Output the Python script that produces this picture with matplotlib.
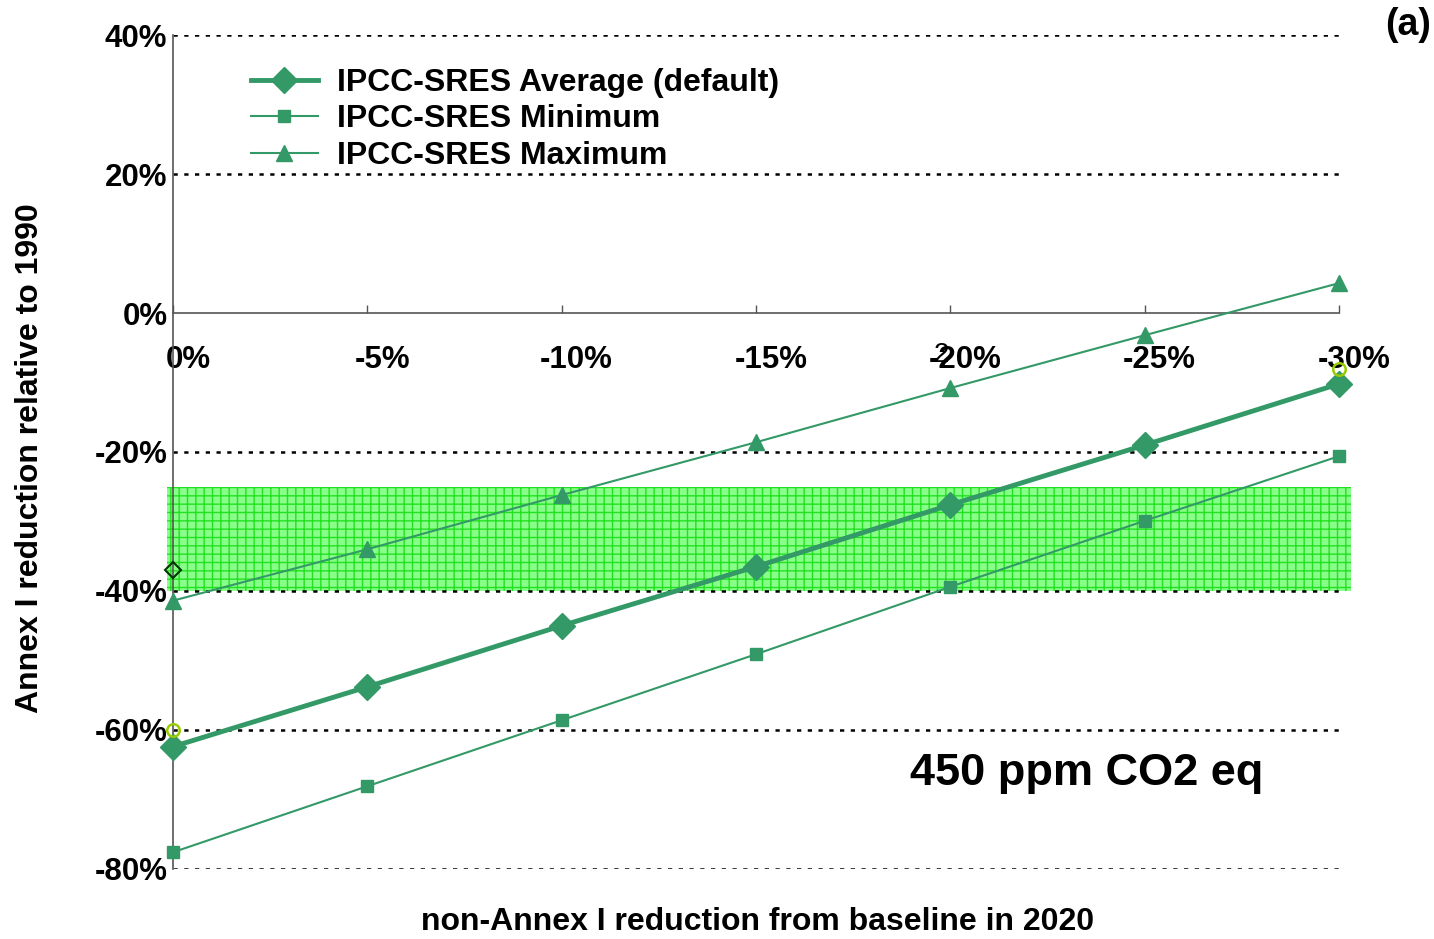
import numpy as np
import matplotlib
matplotlib.use("Agg")
import matplotlib.pyplot as plt
import matplotlib.transforms as mtransforms

# data (percent)
x_red = [0, -5, -10, -15, -20, -25, -30]
avg = [-62.4, -53.8, -45.0, -36.5, -27.6, -19.0, -10.2]
mn = [-77.6, -68.1, -58.6, -49.1, -39.4, -29.9, -20.6]
mx = [-41.4, -34.0, -26.2, -18.6, -10.8, -3.2, 4.3]
band = (-40, -25)
y_ticks = [40, 20, 0, -20, -40, -60, -80]
x_ticks = [0, -5, -10, -15, -20, -25, -30]

plt.rcParams["font.family"] = ["Liberation Sans", "DejaVu Sans"]
plt.rcParams["font.weight"] = "bold"

GREEN = "#339966"

fig = plt.figure(figsize=(14.34, 9.39), dpi=100)
ax = fig.add_axes([0.1206, 0.0746, 0.8132, 0.8881])
ax.set_xlim(0, -30)
ax.set_ylim(-80, 40)

# target band
plt.rcParams["hatch.linewidth"] = 1.0
ax.fill_between([0.15, -30.3], band[0], band[1], facecolor="#88ff88",
                edgecolor="#22e022", hatch="++", lw=0, zorder=1, clip_on=False)

# dotted grid
for yv in y_ticks:
    if yv == 0:
        continue
    ax.axhline(yv, color="black", lw=1.8, dashes=(1.7, 2.6), zorder=2)

ax.plot(x_red, mn, "s-", color=GREEN, lw=1.5, ms=9, zorder=4, clip_on=False,
        label="IPCC-SRES Minimum")
ax.plot(x_red, mx, "^-", color=GREEN, lw=1.5, ms=11, zorder=4, clip_on=False,
        label="IPCC-SRES Maximum")
ax.plot(x_red, avg, "D-", color=GREEN, lw=3.5, ms=13, zorder=5, clip_on=False,
        label="IPCC-SRES Average (default)")

# stray markers in the original
ax.plot([0], [-37], "D", mfc="none", mec="#003300", mew=1.5, ms=8, zorder=6, clip_on=False)
ax.plot([0, -30], [-60, -8], "o", mfc="none", mec="#99cc00", mew=1.8, ms=9, zorder=6, clip_on=False)

# spines: left at x=0, bottom at y=0
for s in ["top", "right"]:
    ax.spines[s].set_visible(False)
ax.spines["left"].set_color("#555555")
ax.spines["left"].set_linewidth(1.2)
ax.spines["bottom"].set_position(("data", 0))
ax.spines["bottom"].set_color("#555555")
ax.spines["bottom"].set_linewidth(1.2)

ax.set_yticks(y_ticks)
ax.set_yticklabels([f"{v}%" for v in y_ticks])
ax.set_xticks(x_ticks)
ax.set_xticklabels([f"{v}%" for v in x_ticks])
ax.tick_params(axis="y", length=0, pad=4, labelsize=22.5)
ax.tick_params(axis="x", direction="in", length=6, width=1, colors="#555555",
               labelcolor="black", pad=23, labelsize=22.5)
off = mtransforms.ScaledTranslation(15 / 100, 0, fig.dpi_scale_trans)
for lab in ax.get_xticklabels():
    lab.set_transform(lab.get_transform() + off)

ax.text(-19.78, -6.0, "2", fontsize=20, color="black", fontweight="normal",
        ha="center", va="center", zorder=7)

h, l = ax.get_legend_handles_labels()
leg = ax.legend([h[2], h[0], h[1]], [l[2], l[0], l[1]], loc="upper left",
                bbox_to_anchor=(0.042, 0.995), frameon=False, fontsize=23,
                handlelength=2.1, labelspacing=0.2, handletextpad=0.6)

ax.text(-23.5, -66.3, "450 ppm CO2 eq", fontsize=32.5, ha="center", va="center")
fig.text(0.998, 0.973, "(a)", fontsize=27, ha="right", va="center")
fig.text(0.021, 0.512, "Annex I reduction relative to 1990", fontsize=23,
         rotation=90, ha="center", va="center")
fig.text(0.528, 0.018, "non-Annex I reduction from baseline in 2020", fontsize=23,
         ha="center", va="center")

fig.savefig("out.png", dpi=100)
